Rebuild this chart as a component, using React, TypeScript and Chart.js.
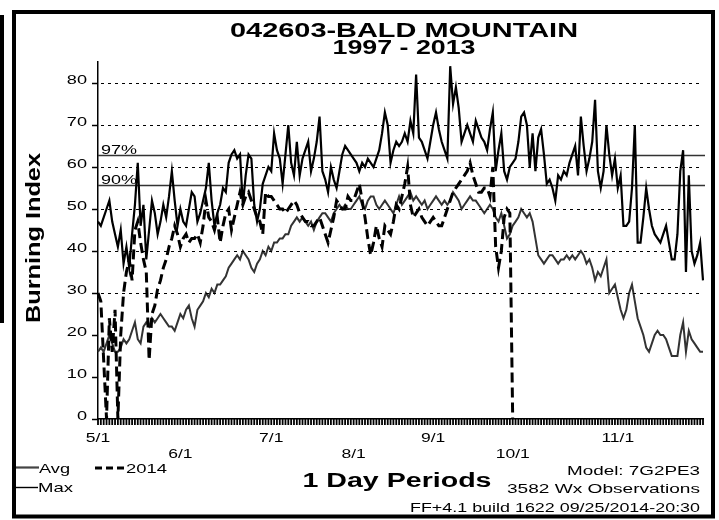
import React, { useEffect, useRef } from 'react';
import { Chart, registerables } from 'chart.js';

Chart.register(...registerables);

// ---- categories: one per day, 5/1 .. 11/30 ----
const MONTHS: [number, number][] = [[5, 31], [6, 30], [7, 31], [8, 31], [9, 30], [10, 31], [11, 30]];
const DAYS: string[] = MONTHS.flatMap(([m, n]) => Array.from({ length: n }, (_, i) => `${m}/${i + 1}`));

// ---- tick labels (as printed on the reference) ----
const X_TICK_LABELS = ['5/1', '6/1', '7/1', '8/1', '9/1', '10/1', '11/1'];
const X_TICK_DAYS = [0, 29, 61, 90, 118, 146, 183];
const X_TICK_ROWS = [0, 1, 0, 1, 0, 1, 0];
const Y_TICKS = [0, 10, 20, 30, 40, 50, 60, 70, 80];
const Y_GRID = [30, 40, 50, 60, 70, 80];

// ---- percentile lines ----
const PCT_LABELS = ['97%', '90%'];
const PCT_VALUES = [62.9, 55.7];

// ---- series ----
const AVG = [
  16, 17, 16, 18, 20, 18, 16, 16, 17, 19,
  18, 19, 21, 23, 19, 18, 22, 23, 22, 24,
  23, 24, 25, 24, 23, 22, 22, 21, 23, 25,
  24, 26, 27, 24, 22, 26, 27, 28, 30, 29,
  31, 30, 32, 32, 33, 34, 36, 37, 38, 39,
  38, 40, 39, 38, 36, 35, 37, 38, 40, 39,
  41, 40, 42, 42, 43, 43, 44, 44, 46, 47,
  48, 47, 48, 47, 46, 47, 45, 47, 48, 49,
  49, 48, 47, 49, 50, 51, 50, 51, 50, 50,
  51, 52, 53, 51, 50, 52, 53, 53, 51, 50,
  51, 52, 51, 50, 49, 51, 53, 51, 52, 53,
  54, 52, 53, 52, 51, 52, 50, 51, 52, 53,
  52, 51, 52, 51, 52, 54, 53, 52, 50, 51,
  52, 53, 52, 52, 51, 50, 49, 50, 51, 50,
  48, 47, 49, 46, 43, 44, 46, 47, 48, 50,
  49, 48, 49, 47, 43, 39, 38, 37, 38, 39,
  39, 38, 37, 38, 38, 39, 38, 39, 38, 39,
  40, 39, 37, 38, 36, 33, 35, 34, 36, 38,
  30, 31, 32, 29, 26, 24, 26, 30, 32, 28,
  24, 22, 20, 17, 16, 18, 20, 21, 20, 20,
  19, 17, 15, 15, 15, 20, 23, 16, 21, 19,
  18, 17, 16, 16,
];

const MAX = [
  47, 46, 48, 50, 52, 47, 44, 41, 45, 37,
  41, 36, 44, 51, 61, 46, 51, 38, 45, 52,
  49, 44, 47, 51, 48, 53, 59, 52, 46, 50,
  47, 46, 50, 54, 53, 47, 49, 52, 55, 61,
  52, 46, 49, 51, 55, 54, 61, 63, 64, 62,
  63, 51, 58, 63, 62, 51, 47, 50, 56, 58,
  60, 59, 68, 64, 62, 56, 63, 70, 61, 58,
  66, 58, 62, 64, 66, 59, 62, 66, 72, 59,
  57, 54, 60, 57, 55, 59, 63, 65, 64, 63,
  62, 61, 59, 61, 60, 62, 61, 60, 62, 64,
  68, 73, 70, 61, 64, 66, 65, 66, 68, 66,
  71, 68, 82, 67, 66, 64, 62, 66, 70, 73,
  69, 66, 64, 62, 84, 75, 79, 74, 66, 68,
  70, 68, 66, 71, 69, 67, 66, 64, 69, 73,
  59, 64, 68, 59, 57, 60, 61, 62, 66, 72,
  73, 70, 60, 68, 59, 67, 69, 63, 56, 57,
  55, 52, 58, 57, 59, 58, 61, 63, 65, 58,
  72, 65, 59, 62, 66, 76, 59, 55, 59, 70,
  63, 58, 62, 55, 58, 46, 46, 47, 55, 70,
  42, 42, 48, 55, 50, 46, 44, 43, 42, 44,
  46, 42, 38, 38, 44, 59, 64, 35, 58, 40,
  37, 39, 42, 33,
];

const Y2014 = [
  30, 28, 14, 0, 24, 16, 26, 0, 20, 30,
  35, 38, 33, 45, 47, 42, 38, 35, 14, 25,
  27, 31, 33, 36, 38, 41, 43, 46, 44, 41,
  43, 44, 42, 43, 43, 44, 42, 46, 52, 48,
  47, 45, 48, 42, 46, 49, 50, 45, 48, 51,
  54, 51, 53, 54, 52, 50, 48, 47, 44, 54,
  53, 53, 52, 51, 50, 50, 49, 50, 51, 52,
  51, 49, 48, 47, 47, 46, 46, 47, 48, 46,
  44, 42, 45, 48, 52, 51, 50, 50, 53, 52,
  52, 54, 56, 52, 48, 43, 39, 42, 46, 43,
  41, 46, 45, 44, 47, 51, 50, 53, 56, 60,
  51, 48, 49, 50, 48, 47, 46, 47, 48, 47,
  46, 46, 48, 50, 52, 54, 55, 56, 57, 58,
  59, 61, 58, 56, 54, 54, 55, 55, 53, 60,
  41, 36, 40, 48, 50, 49, 0,
];

const FONT = '"Liberation Sans", Arial, sans-serif';

function fitText(ctx: CanvasRenderingContext2D, text: string, x: number, y: number, font: string, width: number, align: CanvasTextAlign = 'left') {
  ctx.save();
  ctx.font = font;
  const w = ctx.measureText(text).width;
  ctx.translate(x, y);
  ctx.scale(width / w, 1);
  ctx.textAlign = align;
  ctx.textBaseline = 'alphabetic';
  ctx.fillStyle = '#000';
  ctx.fillText(text, 0, 0);
  ctx.restore();
}

function stretchText(ctx: CanvasRenderingContext2D, text: string, x: number, y: number, font: string, sx: number, align: CanvasTextAlign) {
  ctx.save();
  ctx.font = font;
  ctx.translate(x, y);
  ctx.scale(sx, 1);
  ctx.textAlign = align;
  ctx.textBaseline = 'alphabetic';
  ctx.fillStyle = '#000';
  ctx.fillText(text, 0, 0);
  ctx.restore();
}

function drawGuides(chart: any) {
  const ctx = chart.ctx as CanvasRenderingContext2D;
  const { left, right, bottom } = chart.chartArea;
  const xs = chart.scales.x;
  const y = chart.scales.y;
  ctx.save();
  // dotted grid lines
  ctx.strokeStyle = '#000';
  ctx.lineWidth = 1;
  ctx.setLineDash([3, 4]);
  for (const v of Y_GRID) {
    const py = Math.round(y.getPixelForValue(v)) + 0.5;
    ctx.beginPath();
    ctx.moveTo(left + 3, py);
    ctx.lineTo(right, py);
    ctx.stroke();
  }
  ctx.setLineDash([]);
  // y tick marks
  ctx.lineWidth = 1.5;
  for (const v of Y_TICKS) {
    const py = Math.round(y.getPixelForValue(v)) + 0.5;
    ctx.beginPath();
    ctx.moveTo(left - 6, py);
    ctx.lineTo(left, py);
    ctx.stroke();
  }
  // x comb: one tick per day
  ctx.lineWidth = 1.8;
  for (let i = 0; i < DAYS.length; i++) {
    const px = xs.getPixelForValue(i);
    ctx.beginPath();
    ctx.moveTo(px, bottom);
    ctx.lineTo(px, bottom + 6);
    ctx.stroke();
  }
  ctx.restore();
}

const decorPlugin = {
  id: 'decor',
  beforeDraw(chart: any) {
    const ctx = chart.ctx as CanvasRenderingContext2D;
    ctx.save();
    ctx.fillStyle = '#fff';
    ctx.fillRect(0, 0, chart.width, chart.height);
    ctx.restore();
  },
  beforeDatasetsDraw(chart: any) {
    const ctx = chart.ctx as CanvasRenderingContext2D;
    const { left, right } = chart.chartArea;
    const y = chart.scales.y;
    // percentile lines
    PCT_VALUES.forEach((v, i) => {
      const py = Math.round(y.getPixelForValue(v)) + 0.5;
      ctx.save();
      ctx.strokeStyle = '#333';
      ctx.lineWidth = 1.3;
      ctx.beginPath();
      ctx.moveTo(left, py);
      ctx.lineTo(right + 2, py);
      ctx.stroke();
      ctx.restore();
      fitText(ctx, PCT_LABELS[i], left + 3, py - 1.5, `13px ${FONT}`, 36);
    });
  },
  afterDraw(chart: any) {
    const ctx = chart.ctx as CanvasRenderingContext2D;
    const xs = chart.scales.x;
    const ys = chart.scales.y;

    drawGuides(chart);

    // y tick labels
    Y_TICKS.forEach((v) => {
      const py = ys.getPixelForValue(v);
      stretchText(ctx, String(v), 87, py + 1, `12.5px ${FONT}`, 1.45, 'right');
    });
    // x tick labels (two staggered rows)
    X_TICK_LABELS.forEach((t, i) => {
      const px = xs.getPixelForValue(X_TICK_DAYS[i]);
      stretchText(ctx, t, px, X_TICK_ROWS[i] === 0 ? 442 : 458, `12.5px ${FONT}`, 1.4, 'center');
    });

    // title
    fitText(ctx, '042603-BALD MOUNTAIN', 404, 37, `bold 20px ${FONT}`, 348, 'center');
    fitText(ctx, '1997 - 2013', 404, 54, `bold 20px ${FONT}`, 143, 'center');

    // y axis title
    ctx.save();
    ctx.font = `bold 21px ${FONT}`;
    const tw = ctx.measureText('Burning Index').width;
    ctx.translate(40, 238);
    ctx.rotate(-Math.PI / 2);
    ctx.scale(170 / tw, 1);
    ctx.textAlign = 'center';
    ctx.textBaseline = 'alphabetic';
    ctx.fillStyle = '#000';
    ctx.fillText('Burning Index', 0, 0);
    ctx.restore();

    // x axis title
    fitText(ctx, '1 Day Periods', 397, 487, `bold 20px ${FONT}`, 189, 'center');

    // legend
    ctx.save();
    ctx.strokeStyle = '#444';
    ctx.lineWidth = 2.2;
    ctx.beginPath(); ctx.moveTo(12, 467.5); ctx.lineTo(39, 467.5); ctx.stroke();
    ctx.strokeStyle = '#000';
    ctx.lineWidth = 1.4;
    ctx.beginPath(); ctx.moveTo(12, 487.5); ctx.lineTo(38, 487.5); ctx.stroke();
    ctx.lineWidth = 3;
    ctx.setLineDash([7, 4]);
    ctx.beginPath(); ctx.moveTo(95, 468); ctx.lineTo(126, 468); ctx.stroke();
    ctx.restore();
    fitText(ctx, 'Avg', 39, 473, `13px ${FONT}`, 31);
    fitText(ctx, '2014', 126, 473, `13px ${FONT}`, 41);
    fitText(ctx, 'Max', 38, 492, `13px ${FONT}`, 35);

    // footer
    fitText(ctx, 'Model: 7G2PE3', 700, 475, `13px ${FONT}`, 133, 'right');
    fitText(ctx, '3582 Wx Observations', 700, 493, `13px ${FONT}`, 193, 'right');
    fitText(ctx, 'FF+4.1 build 1622 09/25/2014-20:30', 700, 512, `13px ${FONT}`, 290, 'right');

    // frame
    ctx.save();
    ctx.strokeStyle = '#000';
    ctx.lineWidth = 4;
    ctx.strokeRect(14, 12, 699, 504.5);
    ctx.fillStyle = '#000';
    ctx.fillRect(0, 15, 4, 308);
    ctx.restore();
  },
};

export default function App() {
  const ref = useRef<HTMLCanvasElement | null>(null);

  useEffect(() => {
    if (!ref.current) return;
    const chart = new Chart(ref.current, {
      type: 'line',
      data: {
        labels: DAYS,
        datasets: [
          {
            label: '2014',
            data: Y2014,
            borderColor: '#000',
            borderWidth: 3,
            borderDash: [10, 5],
            pointRadius: 0,
            tension: 0,
            fill: false,
          },
          {
            label: 'Max',
            data: MAX,
            borderColor: '#000',
            borderWidth: 2.2,
            pointRadius: 0,
            tension: 0,
            fill: false,
          },
          {
            label: 'Avg',
            data: AVG,
            borderColor: '#333',
            borderWidth: 2,
            pointRadius: 0,
            tension: 0,
            fill: false,
          },
        ],
      },
      options: {
        responsive: false,
        devicePixelRatio: 1,
        animation: false,
        events: [],
        layout: { padding: { left: 90, right: 16, top: 62, bottom: 95 } },
        plugins: { legend: { display: false }, tooltip: { enabled: false }, title: { display: false } },
        scales: {
          x: {
            type: 'category',
            afterFit: (s: any) => { s.height = 6; },
            ticks: { display: false, autoSkip: false },
            grid: { display: false },
            border: { display: true, color: '#000', width: 1.5 },
          },
          y: {
            min: 0,
            max: 85,
            afterFit: (s: any) => { s.width = 8; },
            ticks: { display: false, stepSize: 10, includeBounds: false },
            grid: { display: false },
            border: { display: true, color: '#000', width: 1.5 },
          },
        },
      },
      plugins: [decorPlugin],
    } as any);
    return () => chart.destroy();
  }, []);

  return (
    <div style={{ position: 'fixed', left: 0, top: 0, width: 719, height: 520, background: '#fff' }}>
      <canvas ref={ref} width={719} height={520} style={{ display: 'block' }} />
    </div>
  );
}
